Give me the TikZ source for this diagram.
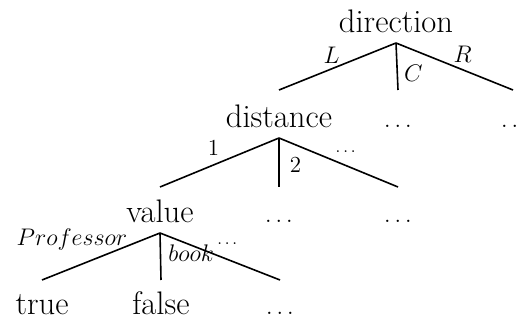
\documentclass[tikz,border=0pt]{standalone}
\usepackage{tikz}

\begin{document}
\begin{tikzpicture}[
    x=0.5pt, y=-0.5pt,
    word/.style={font=\fontsize{16.3}{19}\selectfont, anchor=base, inner sep=0pt},
    more/.style={font=\fontsize{11.5}{14}\selectfont, anchor=base, inner sep=0pt},
    lbl/.style={font=\fontsize{11.5}{14}\selectfont, inner sep=1pt},
    small/.style={font=\fontsize{8.5}{10}\selectfont, inner sep=1pt},
    branch/.style={line width=0.8pt}
  ]
  \useasboundingbox (0,0) rectangle (520,320);

  % tree levels
  \node[word] (dir) at (396,33) {direction};
  \node[word] (dist) at (279,128) {distance};
  \node[more] (m1) at (398,128) {$\ldots$};
  \node[more] (m2) at (515,128) {$\ldots$};
  \node[word] (val) at (160,223) {value};
  \node[more] (m3) at (279,223) {$\ldots$};
  \node[more] (m4) at (398,223) {$\ldots$};
  \node[word] (tru) at (42,315) {true};
  \node[word] (fls) at (161,315) {false};
  \node[more] (m5) at (280,315) {$\ldots$};

  % direction
  \draw[branch] ([yshift=-5pt]dir.base) -- node[lbl, pos=.55, above=1.5pt] {$L$} ([yshift=19pt]dist.base);
  \draw[branch] ([yshift=-5pt]dir.base) -- node[lbl, pos=.64, right=2pt] {$C$} ([yshift=19pt]m1.base);
  \draw[branch] ([yshift=-5pt]dir.base) -- node[lbl, pos=.57, above=2pt] {$R$} ([xshift=-1pt,yshift=19pt]m2.base);

  % distance
  \draw[branch] ([yshift=-5pt]dist.base) -- node[lbl, pos=.55, above=3.5pt] {1} ([yshift=18pt]val.base);
  \draw[branch] ([yshift=-5pt]dist.base) -- node[lbl, pos=.55, right=4pt] {2} ([yshift=18pt]m3.base);
  \draw[branch] ([yshift=-5pt]dist.base) -- node[small, pos=.56, above=5pt] {$\ldots$} ([yshift=18pt]m4.base);

  % value
  \draw[branch] ([yshift=-5pt]val.base) -- node[pos=.27, anchor=base east, inner sep=0pt,
      font=\fontsize{12}{14}\selectfont] {$Professor$} ([yshift=17.5pt]tru.base);
  \draw[branch] ([yshift=-5pt]val.base) -- node[lbl, pos=.61, anchor=base west, inner sep=0pt, xshift=3.5pt] {$book$} ([yshift=17.5pt]fls.base);
  \draw[branch] ([yshift=-5pt]val.base) -- node[small, pos=.56, above=6pt] {$\ldots$} ([yshift=17.5pt]m5.base);
\end{tikzpicture}
\end{document}
